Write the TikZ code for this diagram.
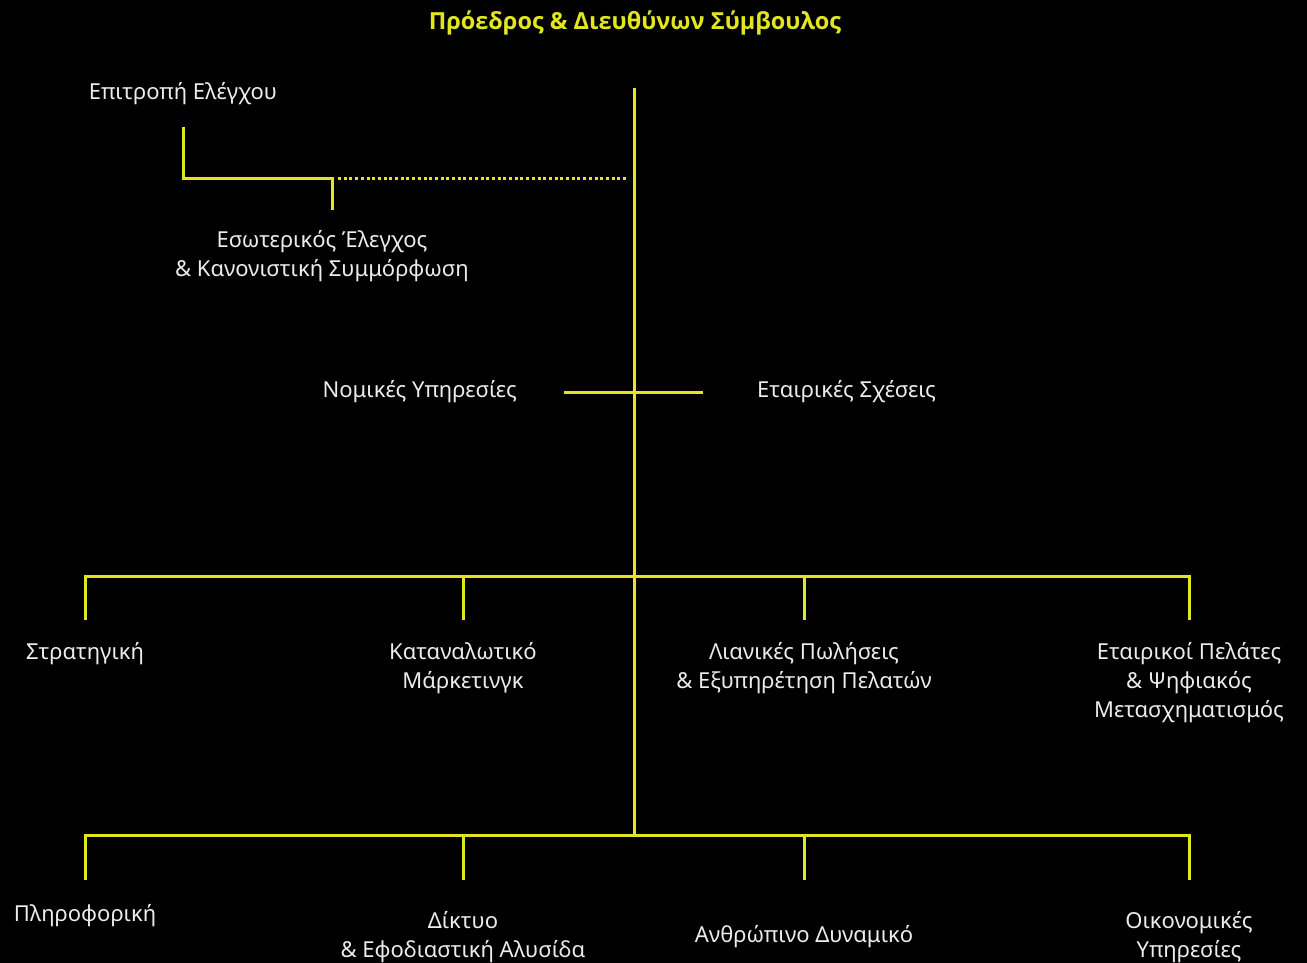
\documentclass[tikz,border=0pt]{standalone}
\usepackage{fontspec}
\setmainfont{Noto Sans}
\newfontfamily\titlefont{Open Sans}[BoldFont={* Bold}]
\usetikzlibrary{positioning}
\definecolor{orgyellow}{RGB}{226,230,32}
\definecolor{orgtext}{RGB}{236,236,236}

\begin{document}
\begin{tikzpicture}[
  x=1pt, y=-1pt,
  unit/.style={text=orgtext, align=center, inner xsep=0pt,
    font=\fontsize{22}{29}\selectfont},
  link/.style={draw=orgyellow, line width=3pt},
  dotline/.style={draw=orgyellow, line width=3pt, dash pattern=on 3pt off 2.7pt}
]
\useasboundingbox[fill=black] (0,0) rectangle (1307,963);

\node[text=orgyellow, font=\titlefont\bfseries\fontsize{23.5}{28}\selectfont] (ceo) at (635,23) {Πρόεδρος \& Διευθύνων Σύμβουλος};

% junctions on the main line
\coordinate (top) at (634,88);
\coordinate (split) at (332,179);
\coordinate (bus1) at (634,576);
\coordinate (bus2) at (634,835);

\node[unit, anchor=south, inner ysep=22pt] (audit) at (183,127) {Επιτροπή Ελέγχου};
\node[unit, anchor=north, inner ysep=20pt] (iac) at (322,210) {Εσωτερικός Έλεγχος\\\& Κανονιστική Συμμόρφωση};

\node[unit, anchor=east, inner xsep=47pt] (legal) at (564,392) {Νομικές Υπηρεσίες};
\node[unit, anchor=west, inner xsep=54pt] (pr) at (703,392) {Εταιρικές Σχέσεις};

\node[unit, anchor=north, inner ysep=22pt] (strat) at (85,620) {Στρατηγική};
\node[unit, anchor=north, inner ysep=22pt] (mkt) at (463,620) {Καταναλωτικό\\Μάρκετινγκ};
\node[unit, anchor=north, inner ysep=22pt] (retail) at (804,620) {Λιανικές Πωλήσεις\\\& Εξυπηρέτηση Πελατών};
\node[unit, anchor=north, inner ysep=22pt] (corp) at (1189,620) {Εταιρικοί Πελάτες\\\& Ψηφιακός\\Μετασχηματισμός};

\node[unit, anchor=north, inner ysep=24pt] (it) at (85,880) {Πληροφορική};
\node[unit, anchor=north, inner ysep=31pt] (net) at (463,880) {Δίκτυο\\\& Εφοδιαστική Αλυσίδα};
\node[unit, anchor=north, inner ysep=45pt] (hr) at (804,880) {Ανθρώπινο Δυναμικό};
\node[unit, anchor=north, inner ysep=31pt] (fin) at (1189,880) {Οικονομικές\\Υπηρεσίες};

\draw[link] (top) -- (bus2);
\draw[link] (audit) |- (split) -- (split |- iac.north);
\draw[dotline, shorten <=6pt, shorten >=6pt] (split) -- (top |- split);
\draw[link] (legal) -- (pr);

\draw[link] (strat) -- (strat |- bus1) -- (corp |- bus1) -- (corp);
\draw[link] (mkt) -- (mkt |- bus1);
\draw[link] (retail) -- (retail |- bus1);

\draw[link] (it) -- (it |- bus2) -- (fin |- bus2) -- (fin);
\draw[link] (net) -- (net |- bus2);
\draw[link] (hr) -- (hr |- bus2);
\end{tikzpicture}
\end{document}
